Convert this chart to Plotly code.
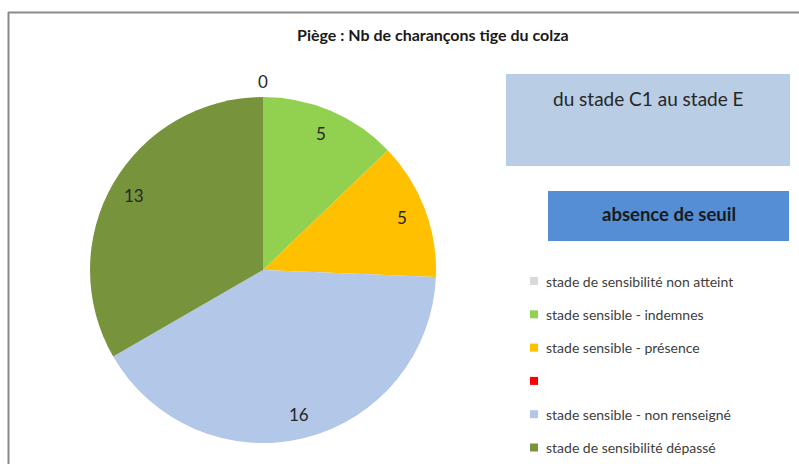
import math
import plotly.graph_objects as go

W, H = 799, 464

categories = [
    "stade de sensibilité non atteint",
    "stade sensible - indemnes",
    "stade sensible - présence",
    "",
    "stade sensible - non renseigné",
    "stade de sensibilité dépassé",
]
values = [0, 5, 5, 0, 16, 13]
colors = ["#D9D9D9", "#92D050", "#FFC000", "#FF0000", "#B3C7E9", "#77933C"]
title_text = "Piège : Nb de charançons tige du colza"
box1_text = "du stade C1 au stade E"
box2_text = "absence de seuil"


def px(x):
    return x / W


def py(y):
    return 1 - y / H


# pie geometry (pixels)
CX, CY, R = 263, 270, 173

fig = go.Figure()
fig.add_trace(go.Pie(
    labels=[c if c else " " for c in categories],
    values=values,
    marker=dict(colors=colors, line=dict(width=0)),
    sort=False,
    direction="clockwise",
    rotation=0,
    textinfo="none",
    hoverinfo="label+value",
    showlegend=False,
    domain=dict(x=[px(CX - R), px(CX + R)], y=[py(CY + R), py(CY - R)]),
))

annotations = []
shapes = []

# value labels placed along each slice's mid-angle
total = sum(values)
cum = 0
for i, v in enumerate(values):
    if categories[i] == "" and v == 0:
        cum += v
        continue
    mid = (cum + v / 2) / total * 2 * math.pi
    rr = R * (0.86 if v > 0 else 1.09)
    x = CX + rr * math.sin(mid)
    y = CY - rr * math.cos(mid)
    annotations.append(dict(
        x=px(x), y=py(y), xref="paper", yref="paper", text=str(v),
        showarrow=False, font=dict(family="Lato", size=17, color="#262626"),
        xanchor="center", yanchor="middle",
    ))
    cum += v

# title
annotations.append(dict(
    x=px(433), y=py(34), xref="paper", yref="paper",
    text="<b>" + title_text + "</b>", showarrow=False,
    font=dict(family="Lato", size=16, color="#1a1a1a"),
    xanchor="center", yanchor="middle",
))

# border of chart area
shapes.append(dict(type="line", xref="paper", yref="paper",
                   x0=px(8), x1=px(805), y0=py(12.5), y1=py(12.5),
                   line=dict(color="#8a8a8a", width=2)))
shapes.append(dict(type="line", xref="paper", yref="paper",
                   x0=px(8.5), x1=px(8.5), y0=py(12), y1=py(470),
                   line=dict(color="#8a8a8a", width=2)))

# info boxes
shapes.append(dict(type="rect", xref="paper", yref="paper",
                   x0=px(506), x1=px(790), y0=py(166), y1=py(74),
                   fillcolor="#B9CDE5", line=dict(width=0), layer="below"))
annotations.append(dict(
    x=px(648), y=py(98), xref="paper", yref="paper", text=box1_text,
    showarrow=False, font=dict(family="Lato", size=19, color="#262626"),
    xanchor="center", yanchor="middle",
))
shapes.append(dict(type="rect", xref="paper", yref="paper",
                   x0=px(548), x1=px(789), y0=py(241), y1=py(191),
                   fillcolor="#558ED5", line=dict(width=0), layer="below"))
annotations.append(dict(
    x=px(669), y=py(214), xref="paper", yref="paper",
    text="<b>" + box2_text + "</b>",
    showarrow=False, font=dict(family="Lato", size=18.5, color="#1a1a1a"),
    xanchor="center", yanchor="middle",
))

# manual legend
for i, (name, col) in enumerate(zip(categories, colors)):
    yc = 281 + i * 33.3
    shapes.append(dict(type="rect", xref="paper", yref="paper",
                       x0=px(530), x1=px(538), y0=py(yc + 4), y1=py(yc - 4),
                       fillcolor=col, line=dict(width=0)))
    if name:
        annotations.append(dict(
            x=px(544), y=py(yc), xref="paper", yref="paper", text=name,
            showarrow=False, font=dict(family="Lato", size=14, color="#404040"),
            xanchor="left", yanchor="middle",
        ))

fig.update_layout(
    width=W, height=H,
    margin=dict(l=0, r=0, t=0, b=0),
    paper_bgcolor="white", plot_bgcolor="white",
    annotations=annotations, shapes=shapes,
    showlegend=False,
)

fig.write_html(
    "out.html",
    config={"displayModeBar": False},
    post_script="document.body.style.margin='0';document.body.style.overflow='hidden';",
)
